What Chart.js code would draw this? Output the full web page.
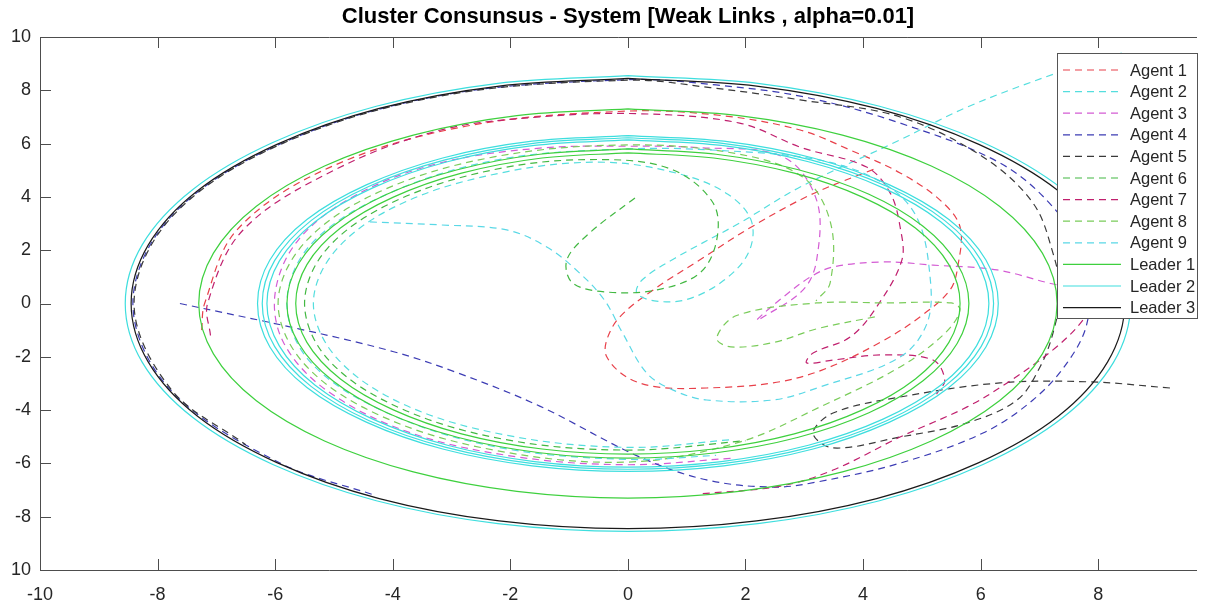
<!DOCTYPE html>
<html>
<head>
<meta charset="utf-8">
<script src="https://cdn.jsdelivr.net/npm/chart.js@4.4.1/dist/chart.umd.min.js"></script>
<style>
  body { margin: 0; background: #fff; }
  canvas { display: block; }
</style>
</head>
<body>
<canvas id="clusterChart" width="1209" height="608"></canvas>
<script>
// tick labels
var xTicks = [-10, -8, -6, -4, -2, 0, 2, 4, 6, 8];
var yTicks = [-10, -8, -6, -4, -2, 0, 2, 4, 6, 8, 10];

var seriesNames = ['Agent 1', 'Agent 2', 'Agent 3', 'Agent 4', 'Agent 5', 'Agent 6',
  'Agent 7', 'Agent 8', 'Agent 9', 'Leader 1', 'Leader 2', 'Leader 3'];

// agent trajectories [x, y]
var agent1 = [[-7.25, -1.0], [-7.2, 0], [-6.65, 2.76], [-5.09, 5.09], [-2.76, 6.65], [0, 7.22], [1.6, 7.05],
  [2.93, 6.51], [3.78, 5.76], [4.63, 4.9], [5.31, 3.88], [5.65, 2.87], [5.61, 1.37], [5.48, 0.51], [5.0, -0.45],
  [4.3, -1.45], [3.3, -2.5], [2.47, -2.98], [1.34, -3.17], [0.49, -3.13], [-0.02, -2.76], [-0.36, -2.0],
  [-0.36, -1.37], [-0.14, -0.51], [0.43, 0.51], [1.22, 1.63], [2.07, 2.83], [3.1, 4.07], [4.25, 5.1]];
var agent2 = [[8.4, 9.4], [7.3, 8.65], [5.77, 7.37], [4.63, 6.14], [2.93, 4.37], [1.9, 3.02], [0.8, 1.7],
  [0.25, 0.9], [0.15, 0.4], [0.45, 0.1], [1.0, 0.15], [1.62, 0.85], [2.05, 1.9], [2.1, 3.1], [1.7, 4.1],
  [0.9, 4.85], [-0.4, 5.3], [-2.05, 4.95], [-3.8, 3.8], [-4.95, 2.05], [-5.35, 0], [-4.95, -2.05],
  [-3.8, -3.8], [-2.05, -4.95], [0, -5.4], [1.8, -5.1]];
var agent3 = [[7.9, 0.55], [7.3, 0.7], [6.28, 1.26], [5.19, 1.44], [4.34, 1.56], [3.49, 1.37], [3.1, 0.99],
  [2.64, 0.24], [2.19, -0.62], [2.3, -0.51], [2.98, 0.51], [3.21, 1.63], [3.21, 3.88], [2.64, 5.5], [1.2, 5.85],
  [0, 5.9], [-1.5, 5.83], [-3.2, 5.27], [-4.6, 4.1], [-5.6, 2.4], [-6.0, 0.4], [-5.85, -1.5], [-5.1, -3.3],
  [-3.7, -4.85], [-1.9, -5.75], [0, -6.05], [1.8, -5.8]];
var agent4 = [[-7.62, 0], [-5.6, -0.95], [-4.0, -1.8], [-2.9, -2.6], [-1.5, -3.85], [0.2, -5.76], [1.34, -6.62],
  [2.47, -6.89], [3.21, -6.7], [4.63, -5.99], [6.04, -4.86], [6.89, -3.62], [7.47, -2.23], [7.81, -0.73],
  [7.85, 1.5], [7.23, 3.62], [6.33, 5.27], [4.63, 6.77], [3.0, 7.75], [1.5, 8.2], [0, 8.4], [-3.22, 7.79],
  [-5.95, 5.95], [-7.79, 3.22], [-8.42, 0], [-7.79, -3.22], [-5.95, -5.95], [-4.3, -7.2]];
var agent5 = [[9.22, -3.17], [7.86, -2.94], [6.33, -2.98], [4.63, -3.51], [3.49, -4.11], [3.15, -4.86],
  [3.49, -5.42], [4.63, -5.01], [5.77, -4.48], [6.62, -3.62], [7.01, -2.38], [7.23, -1.11], [7.35, 0.4],
  [7.23, 1.89], [6.89, 3.77], [6.04, 5.5], [4.63, 7.0], [2.93, 7.64], [1.4, 8.1], [0, 8.38], [-3.22, 7.77],
  [-5.94, 5.94], [-7.77, 3.22], [-8.4, 0], [-7.77, -3.22], [-6.5, -5.3]];
var agent6 = [[0.12, 3.96], [-0.65, 2.65], [-1.04, 1.63], [-0.94, 0.77], [-0.36, 0.43], [0.49, 0.51],
  [1.22, 1.14], [1.51, 2.38], [1.45, 3.77], [0.77, 5.01], [-0.36, 5.4], [-2.1, 5.1], [-3.9, 3.9], [-5.1, 2.1],
  [-5.5, 0], [-5.1, -2.1], [-3.9, -3.9], [-2.1, -5.1], [0, -5.5], [2.0, -5.15]];
var agent7 = [[-7.1, -1.2], [-7.15, 0], [-6.55, 2.75], [-5.0, 5.0], [-3.2, 6.5], [-1.5, 7.0], [0.2, 7.12],
  [1.9, 6.77], [2.95, 5.85], [4.06, 5.12], [4.46, 4.15], [4.63, 2.87], [4.66, 1.63], [4.23, -0.13],
  [3.78, -1.26], [3.15, -1.86], [3.04, -2.23], [3.49, -2.12], [4.34, -1.93], [5.19, -2.12], [5.39, -2.87],
  [5.25, -3.4], [null, null], [7.9, 0.2], [7.74, -0.62], [7.23, -1.74], [6.45, -2.98], [5.77, -3.88],
  [4.63, -5.01], [3.49, -6.25], [2.6, -6.85], [1.2, -7.15]];
var agent8 = [[4.2, -0.5], [3.21, -0.95], [2.5, -1.45], [1.75, -1.63], [1.51, -1.3], [1.85, -0.45], [3.21, 0.02],
  [4.4, 0.02], [5.5, 0.02], [5.65, -0.24], [5.4, -1.1], [4.63, -2.38], [3.27, -3.88], [1.9, -5.2], [0, -5.95],
  [-2.28, -5.5], [-4.21, -4.21], [-5.5, -2.28], [-5.95, 0], [-5.5, 2.28], [-4.21, 4.21], [-2.28, 5.5],
  [0, 5.95], [1.9, 5.6], [3.0, 4.7], [3.45, 3.0], [3.44, 0.77], [3.2, 0.1]];
var agent9 = [[-4.39, 3.06], [-3.2, 2.95], [-2.06, 2.76], [-1.38, 2.12], [-0.82, 1.14], [-0.4, 0.13],
  [-0.09, -1.11], [0.32, -2.61], [0.77, -3.25], [1.34, -3.62], [2.47, -3.62], [3.27, -3.13], [4.63, -2.01],
  [5.09, -0.73], [5.14, 0.99], [4.91, 3.25], [4.34, 4.52], [3.27, 5.38], [1.5, 5.75], [0, 5.8], [-2.2, 5.4],
  [-4.1, 4.1], [-5.4, 2.2], [-5.8, 0], [-5.4, -2.2], [-4.1, -4.1], [-2.2, -5.4], [0, -5.85], [1.5, -5.7]];

// leader orbits, read every 15 degrees starting from the top
var leader1Outer = [[0, 7.3], [-1.89, 7.05], [-3.65, 6.32], [-5.16, 5.16], [-6.32, 3.65], [-7.05, 1.89], [-7.3, 0],
  [-7.05, -1.89], [-6.32, -3.65], [-5.16, -5.16], [-3.65, -6.32], [-1.89, -7.05], [0, -7.3], [1.89, -7.05],
  [3.65, -6.32], [5.16, -5.16], [6.32, -3.65], [7.05, -1.89], [7.3, 0], [7.05, 1.89], [6.32, 3.65],
  [5.16, 5.16], [3.65, 6.32], [1.89, 7.05], [0, 7.3]];
var leader1InnerA = [[0, 5.8], [-1.5, 5.6], [-2.9, 5.02], [-4.1, 4.1], [-5.02, 2.9], [-5.6, 1.5], [-5.8, 0],
  [-5.6, -1.5], [-5.02, -2.9], [-4.1, -4.1], [-2.9, -5.02], [-1.5, -5.6], [0, -5.8], [1.5, -5.6],
  [2.9, -5.02], [4.1, -4.1], [5.02, -2.9], [5.6, -1.5], [5.8, 0], [5.6, 1.5], [5.02, 2.9],
  [4.1, 4.1], [2.9, 5.02], [1.5, 5.6], [0, 5.8]];
var leader1InnerB = [[0, 5.65], [-1.46, 5.46], [-2.83, 4.89], [-3.99, 3.99], [-4.89, 2.83], [-5.46, 1.46], [-5.65, 0],
  [-5.46, -1.46], [-4.89, -2.83], [-3.99, -3.99], [-2.83, -4.89], [-1.46, -5.46], [0, -5.65], [1.46, -5.46],
  [2.83, -4.89], [3.99, -3.99], [4.89, -2.83], [5.46, -1.46], [5.65, 0], [5.46, 1.46], [4.89, 2.83],
  [3.99, 3.99], [2.83, 4.89], [1.46, 5.46], [0, 5.65]];
var leader2InnerA = [[0, 6.14], [-1.59, 5.93], [-3.07, 5.32], [-4.34, 4.34], [-5.32, 3.07], [-5.93, 1.59], [-6.14, 0],
  [-5.93, -1.59], [-5.32, -3.07], [-4.34, -4.34], [-3.07, -5.32], [-1.59, -5.93], [0, -6.14], [1.59, -5.93],
  [3.07, -5.32], [4.34, -4.34], [5.32, -3.07], [5.93, -1.59], [6.14, 0], [5.93, 1.59], [5.32, 3.07],
  [4.34, 4.34], [3.07, 5.32], [1.59, 5.93], [0, 6.14]];
var leader2InnerB = [[0, 6.22], [-1.61, 6.01], [-3.11, 5.39], [-4.4, 4.4], [-5.39, 3.11], [-6.01, 1.61], [-6.22, 0],
  [-6.01, -1.61], [-5.39, -3.11], [-4.4, -4.4], [-3.11, -5.39], [-1.61, -6.01], [0, -6.22], [1.61, -6.01],
  [3.11, -5.39], [4.4, -4.4], [5.39, -3.11], [6.01, -1.61], [6.22, 0], [6.01, 1.61], [5.39, 3.11],
  [4.4, 4.4], [3.11, 5.39], [1.61, 6.01], [0, 6.22]];
var leader2InnerC = [[0, 6.3], [-1.63, 6.09], [-3.15, 5.46], [-4.45, 4.45], [-5.46, 3.15], [-6.09, 1.63], [-6.3, 0],
  [-6.09, -1.63], [-5.46, -3.15], [-4.45, -4.45], [-3.15, -5.46], [-1.63, -6.09], [0, -6.3], [1.63, -6.09],
  [3.15, -5.46], [4.45, -4.45], [5.46, -3.15], [6.09, -1.63], [6.3, 0], [6.09, 1.63], [5.46, 3.15],
  [4.45, 4.45], [3.15, 5.46], [1.63, 6.09], [0, 6.3]];
var leader2Outer = [[0, 8.55], [-2.21, 8.26], [-4.28, 7.4], [-6.04, 6.04], [-7.4, 4.28], [-8.26, 2.21], [-8.55, 0],
  [-8.26, -2.21], [-7.4, -4.28], [-6.04, -6.04], [-4.28, -7.4], [-2.21, -8.26], [0, -8.55], [2.21, -8.26],
  [4.28, -7.4], [6.04, -6.04], [7.4, -4.28], [8.26, -2.21], [8.55, 0], [8.26, 2.21], [7.4, 4.28],
  [6.04, 6.04], [4.28, 7.4], [2.21, 8.26], [0, 8.55]];
var leader3Orbit = [[0, 8.45], [-2.19, 8.16], [-4.23, 7.32], [-5.97, 5.97], [-7.32, 4.23], [-8.16, 2.19], [-8.45, 0],
  [-8.16, -2.19], [-7.32, -4.23], [-5.97, -5.97], [-4.23, -7.32], [-2.19, -8.16], [0, -8.45], [2.19, -8.16],
  [4.23, -7.32], [5.97, -5.97], [7.32, -4.23], [8.16, -2.19], [8.45, 0], [8.16, 2.19], [7.32, 4.23],
  [5.97, 5.97], [4.23, 7.32], [2.19, 8.16], [0, 8.45]];

var gap = [[null, null]];
var leader1 = leader1Outer.concat(gap, leader1InnerA, gap, leader1InnerB);
var leader2 = leader2InnerA.concat(gap, leader2InnerB, gap, leader2InnerC, gap, leader2Outer);
var leader3 = leader3Orbit;

var seriesData = [agent1, agent2, agent3, agent4, agent5, agent6, agent7, agent8, agent9, leader1, leader2, leader3];
var seriesColors = ['#e8404a', '#55dede', '#d45cd4', '#3c3cb4', '#3a3a3a', '#42b842',
  '#c0206e', '#7acc5a', '#5ad8e6', '#3ed03e', '#3edede', '#1a1a1a'];

var textColor = '#262626';
var axisColor = '#4d4d4d';
var fontFamily = '"Liberation Sans", Arial, Helvetica, sans-serif';

var datasets = seriesData.map(function (pts, i) {
  return {
    label: seriesNames[i],
    data: pts,
    showLine: true,
    borderColor: seriesColors[i],
    backgroundColor: seriesColors[i],
    borderWidth: 1.2,
    borderDash: i < 9 ? [7, 5] : [],
    pointRadius: 0,
    pointHoverRadius: 0,
    tension: i < 9 ? 0.35 : 0.34,
    order: 12 - i
  };
});

// axes box, inward ticks, title and boxed legend (MATLAB look)
var matlabLook = {
  id: 'matlabLook',
  afterDraw: function (chart) {
    var ctx = chart.ctx;
    var a = chart.chartArea;
    var xs = chart.scales.x, ys = chart.scales.y;
    ctx.save();
    ctx.strokeStyle = axisColor;
    ctx.lineWidth = 1;
    ctx.setLineDash([]);
    ctx.beginPath();
    ctx.moveTo(a.left + 0.5, a.top + 0.5);
    ctx.lineTo(a.right, a.top + 0.5);
    ctx.moveTo(a.left + 0.5, a.top);
    ctx.lineTo(a.left + 0.5, a.bottom + 0.5);
    ctx.lineTo(a.right, a.bottom + 0.5);
    xs.ticks.forEach(function (t) {
      var px = Math.round(xs.getPixelForValue(t.value)) + 0.5;
      ctx.moveTo(px, a.bottom);
      ctx.lineTo(px, a.bottom - 11);
      ctx.moveTo(px, a.top);
      ctx.lineTo(px, a.top + 11);
    });
    ys.ticks.forEach(function (t) {
      var py = Math.round(ys.getPixelForValue(t.value)) + 0.5;
      ctx.moveTo(a.left, py);
      ctx.lineTo(a.left + 11, py);
    });
    ctx.stroke();

    // title
    ctx.fillStyle = '#000';
    ctx.font = 'bold 22px ' + fontFamily;
    ctx.textAlign = 'center';
    ctx.textBaseline = 'middle';
    ctx.fillText('Cluster Consunsus - System [Weak Links , alpha=0.01]', 628, 17);

    // legend
    var lx = 1057.5, ly = 53.5, lw = 140, lh = 265;
    ctx.fillStyle = '#fff';
    ctx.fillRect(lx, ly, lw, lh);
    ctx.strokeStyle = '#555';
    ctx.strokeRect(lx, ly, lw, lh);
    ctx.font = '16.5px ' + fontFamily;
    ctx.textAlign = 'left';
    chart.data.datasets.forEach(function (ds, i) {
      var y = 70 + i * 21.6;
      ctx.strokeStyle = ds.borderColor;
      ctx.lineWidth = ds.borderWidth;
      ctx.setLineDash(ds.borderDash);
      ctx.beginPath();
      ctx.moveTo(1063, y);
      ctx.lineTo(1121, y);
      ctx.stroke();
      ctx.setLineDash([]);
      ctx.fillStyle = textColor;
      ctx.fillText(ds.label, 1130, y + 1);
    });
    ctx.restore();
  }
};

new Chart(document.getElementById('clusterChart').getContext('2d'), {
  type: 'scatter',
  data: { datasets: datasets },
  options: {
    responsive: false,
    animation: false,
    events: [],
    layout: { padding: { top: 37, right: 12, left: 0, bottom: 0 } },
    plugins: {
      legend: { display: false },
      tooltip: { enabled: false },
      title: { display: false }
    },
    scales: {
      x: {
        type: 'linear',
        min: xTicks[0],
        max: 9.68,
        grid: { display: false },
        border: { display: false },
        afterBuildTicks: function (scale) {
          scale.ticks = xTicks.map(function (v) { return { value: v }; });
        },
        ticks: {
          color: textColor,
          font: { family: fontFamily, size: 18 },
          padding: 6,
          maxRotation: 0
        },
        afterFit: function (scale) { scale.height = 38; }
      },
      y: {
        type: 'linear',
        min: yTicks[0],
        max: yTicks[yTicks.length - 1],
        grid: { display: false },
        border: { display: false },
        afterBuildTicks: function (scale) {
          scale.ticks = yTicks.map(function (v) { return { value: v }; });
        },
        ticks: {
          color: textColor,
          font: { family: fontFamily, size: 18 },
          padding: 1,
          callback: function (v) { return v === -10 ? '10' : v; }
        },
        afterFit: function (scale) { scale.width = 40; }
      }
    }
  },
  plugins: [matlabLook]
});
</script>
</body>
</html>
